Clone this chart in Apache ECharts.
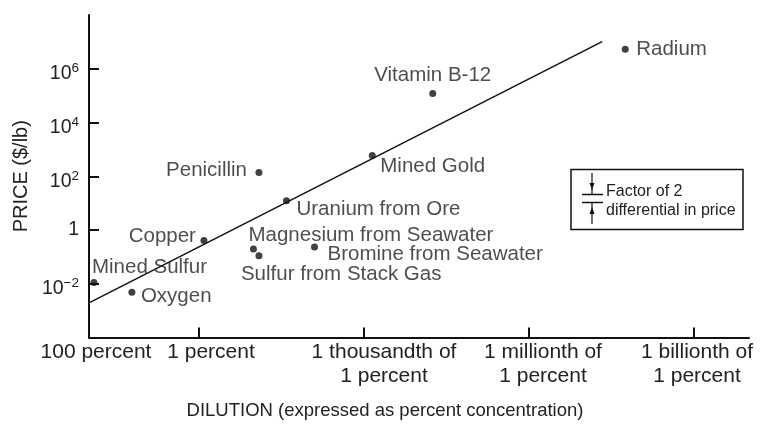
<!DOCTYPE html>
<html>
<head>
<meta charset="utf-8">
<script src="https://cdn.jsdelivr.net/npm/echarts@6/dist/echarts.min.js"></script>
<style>
  html, body { margin: 0; padding: 0; background: #fff; }
  #chart { width: 760px; height: 424px; }
</style>
</head>
<body>
<div id="chart"></div>
<script>
// products, with dilution as decades below 100 percent and price as log10($/lb)
var products = ['Mined Sulfur', 'Oxygen', 'Copper', 'Penicillin', 'Magnesium from Seawater',
    'Sulfur from Stack Gas', 'Uranium from Ore', 'Bromine from Seawater', 'Mined Gold',
    'Vitamin B-12', 'Radium'];
var dilutionExp = [0.09, 0.78, 2.09, 3.09, 2.99, 3.09, 3.59, 4.10, 5.15, 6.25, 9.75];
var priceExp = [-1.95, -2.32, -0.39, 2.14, -0.71, -0.96, 1.09, -0.63, 2.77, 5.08, 6.73];

// fitted line endpoints
var trendDilution = [0, 9.33];
var trendPrice = [-2.71, 7.01];

// axis ticks
var xTickValues = [0, 2, 5, 8, 11];
var xTickLabels = ['100 percent', '1 percent', '1 thousandth of\n1 percent',
    '1 millionth of\n1 percent', '1 billionth of\n1 percent'];
var yTickValues = [-2, 0, 2, 4, 6];

var FONT = 'Liberation Sans, Arial, Helvetica, sans-serif';
var TXT = '#222';

// where each label sits relative to its dot
var labelPlace = {
    'Mined Sulfur': ['left', -2, -15],
    'Oxygen': ['left', 9, 4],
    'Copper': ['right', -8, -4],
    'Penicillin': ['right', -12, -2],
    'Magnesium from Seawater': ['left', -5, -14],
    'Sulfur from Stack Gas': ['left', -18, 19],
    'Uranium from Ore': ['left', 10, 9],
    'Bromine from Seawater': ['left', 13, 7],
    'Mined Gold': ['left', 8, 11],
    'Vitamin B-12': ['center', 0, -18],
    'Radium': ['left', 11, 0]
};
// small horizontal nudges of the x tick labels, as in the original print
var xLabelShift = [7, 12, 20, 14, 3];

var points = products.map(function (name, i) {
    var p = labelPlace[name];
    return {
        name: name,
        value: [dilutionExp[i], priceExp[i]],
        label: { align: p[0], offset: [p[1], p[2]] }
    };
});

var trend = trendDilution.map(function (x, i) { return [x, trendPrice[i]]; });

// negative right padding moves the text right without widening its box
var xRich = {};
xLabelShift.forEach(function (d, i) {
    xRich['t' + i] = { fontSize: 21, lineHeight: 24, color: TXT, fontFamily: FONT,
        padding: [0, -2 * d, 0, 0] };
});

var chart = echarts.init(document.getElementById('chart'));
chart.setOption({
    backgroundColor: '#fff',
    animation: false,
    textStyle: { fontFamily: FONT },
    grid: { left: 89, right: 11, top: 15, bottom: 86.5, outerBoundsMode: 'none', containLabel: false },
    xAxis: {
        type: 'value',
        min: 0,
        max: 12,
        name: 'DILUTION (expressed as percent concentration)',
        nameLocation: 'middle',
        nameGap: 64,
        nameTextStyle: { fontSize: 18.5, color: TXT, padding: [0, 68, 0, 0] },
        axisLine: { onZero: false, lineStyle: { color: '#111', width: 2 } },
        axisTick: { inside: true, length: 10, customValues: xTickValues,
            lineStyle: { color: '#111', width: 2 } },
        axisLabel: {
            customValues: xTickValues,
            margin: 3,
            formatter: function (v) {
                var i = xTickValues.indexOf(v);
                if (i < 0) return '';
                return xTickLabels[i].split('\n').map(function (s) {
                    return '{t' + i + '|' + s + '}';
                }).join('\n');
            },
            rich: xRich
        },
        splitLine: { show: false }
    },
    yAxis: {
        type: 'value',
        min: -4,
        max: 8,
        interval: 2,
        name: 'PRICE ($/lb)',
        nameLocation: 'middle',
        nameGap: 56,
        nameTextStyle: { fontSize: 20, color: TXT },
        axisLine: { onZero: false, lineStyle: { color: '#111', width: 2 } },
        axisTick: { inside: true, length: 10, customValues: yTickValues,
            lineStyle: { color: '#111', width: 2 } },
        axisLabel: {
            customValues: yTickValues,
            margin: 10,
            color: TXT,
            formatter: function (v) {
                if (v === 0) return '{o|1}';
                return '{b|10}{s|' + String(v).replace('-', '\u2212') + '}';
            },
            rich: {
                o: { fontSize: 19.5, color: TXT, fontFamily: FONT },
                b: { fontSize: 19.5, color: TXT, fontFamily: FONT, padding: [10, 0, 0, 0] },
                s: { fontSize: 13.5, color: TXT, fontFamily: FONT }
            }
        },
        splitLine: { show: false }
    },
    graphic: [
        { type: 'rect', shape: { x: 571, y: 169.5, width: 172, height: 60 },
            style: { fill: '#fff', stroke: '#111', lineWidth: 1.5 } },
        { type: 'line', shape: { x1: 582, y1: 194.5, x2: 603, y2: 194.5 }, style: { stroke: '#111', lineWidth: 1.5 } },
        { type: 'line', shape: { x1: 582, y1: 202.5, x2: 603, y2: 202.5 }, style: { stroke: '#111', lineWidth: 1.5 } },
        { type: 'line', shape: { x1: 592, y1: 173, x2: 592, y2: 194.5 }, style: { stroke: '#111', lineWidth: 1.2 } },
        { type: 'line', shape: { x1: 592, y1: 202.5, x2: 592, y2: 224 }, style: { stroke: '#111', lineWidth: 1.2 } },
        { type: 'polygon', shape: { points: [[589.5, 183], [594.5, 183], [592, 190]] }, style: { fill: '#111' } },
        { type: 'polygon', shape: { points: [[589.5, 214], [594.5, 214], [592, 207]] }, style: { fill: '#111' } },
        { type: 'text', x: 606, y: 192, style: { text: 'Factor of 2', font: '16px ' + FONT,
            fill: TXT, textVerticalAlign: 'middle' } },
        { type: 'text', x: 606, y: 211, style: { text: 'differential in price', font: '16px ' + FONT,
            fill: TXT, textVerticalAlign: 'middle' } }
    ],
    series: [
        {
            type: 'line',
            data: trend,
            symbol: 'none',
            lineStyle: { color: '#111', width: 1.5 },
            z: 1
        },
        {
            type: 'scatter',
            data: points,
            symbolSize: 7,
            itemStyle: { color: '#111' },
            label: {
                show: true,
                position: 'inside',
                verticalAlign: 'middle',
                formatter: '{b}',
                fontSize: 20.5,
                color: TXT
            },
            z: 3
        }
    ]
});
</script>
</body>
</html>
